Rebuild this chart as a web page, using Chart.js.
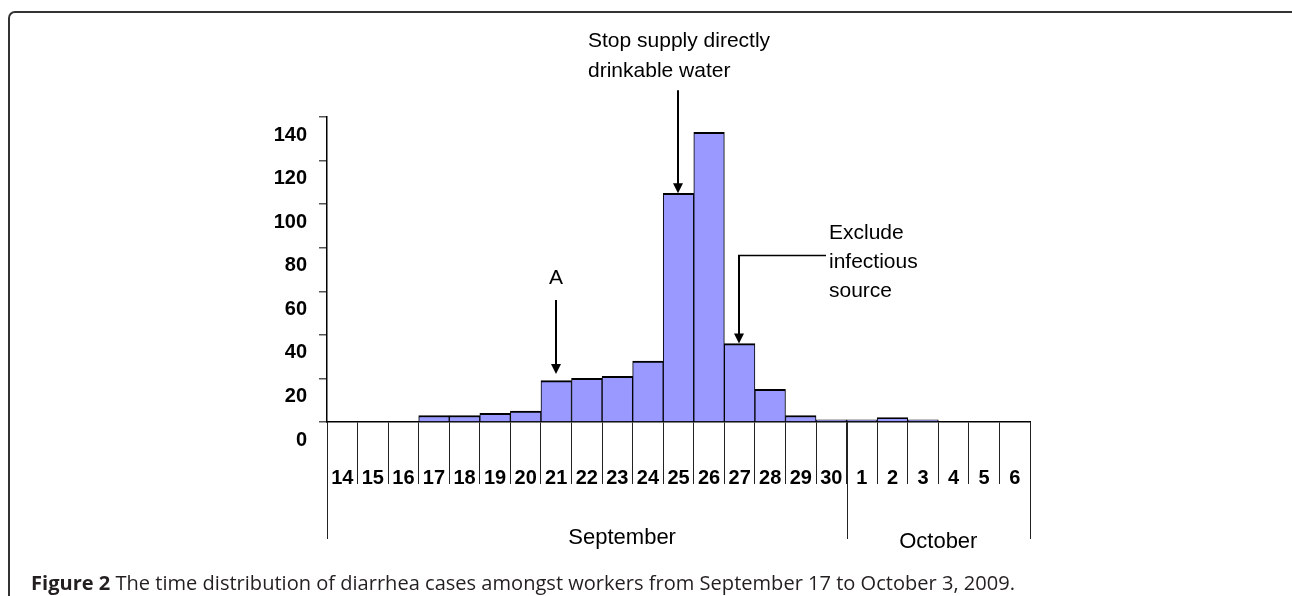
<!DOCTYPE html>
<html>
<head>
<meta charset="utf-8">
<script src="https://cdn.jsdelivr.net/npm/chart.js@4/dist/chart.umd.min.js"></script>
<style>
html,body{margin:0;padding:0;background:#fff;}
#wrap{position:relative;width:1292px;height:596px;overflow:hidden;background:#fff;}
#frame{position:absolute;left:8px;top:11px;width:1290px;height:660px;border:2px solid #333;border-radius:7px;box-sizing:border-box;}
#c{position:absolute;left:0;top:0;}
#cap{position:absolute;left:31px;top:571px;font-family:'Open Sans',sans-serif;font-size:20px;line-height:24px;white-space:nowrap;transform-origin:0 0;color:#231f20;}
#cap b{font-weight:700;}
</style>
</head>
<body>
<div id="wrap">
  <div id="frame"></div>
  <canvas id="c" width="1292" height="596"></canvas>
  <div id="cap"><b>Figure 2</b> The time distribution of diarrhea cases amongst workers from September 17 to October 3, 2009.</div>
</div>
<script>
// ---- data ----
const days = ['14','15','16','17','18','19','20','21','22','23','24','25','26','27','28','29','30','1','2','3','4','5','6'];
const cases = [0,0,0,3,3,4,5,19,20,21,28,105,133,36,15,3,1,1,2,1,0,0,0];
const months = ['September','October'];
const monthLengths = [17, 6];
const yTicks = [0,20,40,60,80,100,120,140];
const noteA = ['A'];
const noteADay = '21';
const noteStop = ['Stop supply directly','drinkable water'];
const noteStopDay = '25';
const noteExclude = ['Exclude','infectious','source'];
const noteExcludeDay = '27';

Chart.defaults.font.family = "'Liberation Sans', Arial, Helvetica, sans-serif";
Chart.defaults.color = '#000';

const monthPlugin = {
  id: 'months',
  afterDraw(chart) {
    const ctx = chart.ctx, xs = chart.scales.x;
    const anchors = [0.568, 0.5];
    const labelY = [538, 542];
    ctx.save();
    ctx.strokeStyle = '#222';
    ctx.lineWidth = 1;
    let start = 0;
    const bounds = [0];
    monthLengths.forEach(n => { start += n; bounds.push(start); });
    bounds.forEach(b => {
      const x = Math.round(xs.getPixelForValue(b - 0.5)) + 0.5;
      ctx.beginPath(); ctx.moveTo(x, xs.top); ctx.lineTo(x, 539); ctx.stroke();
    });
    ctx.fillStyle = '#000';
    ctx.font = "22px 'Liberation Sans', Arial, sans-serif";
    ctx.textAlign = 'center';
    ctx.textBaseline = 'middle';
    months.forEach((m, i) => {
      const x0 = xs.getPixelForValue(bounds[i] - 0.5);
      const x1 = xs.getPixelForValue(bounds[i + 1] - 0.5);
      ctx.fillText(m, x0 + (x1 - x0) * anchors[i], labelY[i]);
    });
    ctx.restore();
  }
};

const notesPlugin = {
  id: 'notes',
  afterDraw(chart) {
    const ctx = chart.ctx, xs = chart.scales.x, ys = chart.scales.y;
    const xAt = d => xs.getPixelForValue(days.indexOf(d));
    const topAt = d => ys.getPixelForValue(cases[days.indexOf(d)]);
    ctx.save();
    ctx.strokeStyle = '#000';
    ctx.fillStyle = '#000';
    const line = (x1, y1, x2, y2, w) => { ctx.lineWidth = w; ctx.beginPath(); ctx.moveTo(x1, y1); ctx.lineTo(x2, y2); ctx.stroke(); };
    const head = (x, y) => { ctx.beginPath(); ctx.moveTo(x, y); ctx.lineTo(x - 5, y - 10); ctx.lineTo(x + 5, y - 10); ctx.closePath(); ctx.fill(); };
    ctx.font = "21px 'Liberation Sans', Arial, sans-serif";
    ctx.textBaseline = 'middle';

    // A
    let x = Math.round(xAt(noteADay)), tip = topAt(noteADay) - 6.5;
    line(x, tip - 74, x, tip - 8, 2); head(x, tip);
    ctx.textAlign = 'center';
    noteA.forEach((t, i) => ctx.fillText(t, x, tip - 96 + i * 30));

    // Stop supply
    x = Math.round(xAt(noteStopDay)) - 1; tip = topAt(noteStopDay);
    const tail = tip - 103;
    line(x, tail, x, tip - 8, 2); head(x, tip);
    ctx.textAlign = 'left';
    noteStop.forEach((t, i) => ctx.fillText(t, x - 90, tail - 49 + i * 30));

    // Exclude
    x = Math.round(xAt(noteExcludeDay)) - 1; tip = topAt(noteExcludeDay);
    const elbow = tip - 88;
    line(x + 87, elbow, x - 1, elbow, 1.5);
    line(x, elbow, x, tip - 8, 2); head(x, tip);
    ctx.textAlign = 'left';
    noteExclude.forEach((t, i) => ctx.fillText(t, x + 90, elbow - 22 + i * 29));
    ctx.restore();
  }
};

new Chart(document.getElementById('c'), {
  type: 'bar',
  data: {
    labels: days,
    datasets: [{
      data: cases,
      backgroundColor: '#9999ff',
      borderColor: '#000',
      borderWidth: {top: 2, left: 1, right: 1, bottom: 0},
      borderSkipped: 'start',
      barPercentage: 1,
      categoryPercentage: 1
    }]
  },
  options: {
    responsive: false,
    animation: false,
    devicePixelRatio: 1,
    layout: {padding: {top: 117, right: 262, bottom: 0, left: 0}},
    plugins: {legend: {display: false}, tooltip: {enabled: false}, title: {display: false}},
    scales: {
      x: {
        grid: {offset: true, drawOnChartArea: false, drawTicks: true, tickLength: 62, color: '#222', lineWidth: 1},
        border: {display: true, color: '#000', width: 1.5},
        ticks: {font: {size: 20, weight: 'bold'}, color: '#000', padding: -18, maxRotation: 0, autoSkip: false},
        afterFit: s => { s.height = 174; }
      },
      y: {
        min: 0,
        max: 140,
        afterBuildTicks: s => { s.ticks = yTicks.map(v => ({value: v})); },
        grid: {drawOnChartArea: false, drawTicks: true, tickLength: 8, color: '#555', lineWidth: 1.5},
        border: {display: true, color: '#000', width: 1.5},
        ticks: {font: {size: 20, weight: 'bold'}, color: '#000', padding: 12, labelOffset: 18},
        afterFit: s => { s.width = 327; }
      }
    }
  },
  plugins: [monthPlugin, notesPlugin]
});

function fitCaption() {
  const cap = document.getElementById('cap');
  cap.style.transform = 'none';
  const w = cap.getBoundingClientRect().width;
  const target = 1015 - 31;
  cap.style.transform = 'scaleX(' + (target / w) + ')';
}
fitCaption();
if (document.fonts && document.fonts.ready) document.fonts.ready.then(fitCaption);
</script>
</body>
</html>
